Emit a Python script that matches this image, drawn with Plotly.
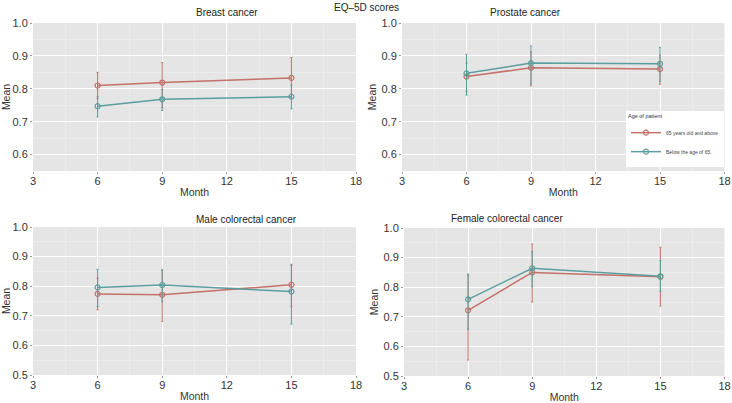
import plotly.graph_objects as go

months = [6, 9, 15]
panels = ["Breast cancer", "Prostate cancer", "Male colorectal cancer", "Female colorectal cancer"]
series_names = ["65 years old and above", "Below the age of 65."]

# mean values per panel: [65+, below 65]
old_mean = [
    [0.810, 0.819, 0.833],
    [0.837, 0.864, 0.860],
    [0.774, 0.771, 0.805],
    [0.722, 0.850, 0.835],
]
old_hi = [
    [0.850, 0.880, 0.895],
    [0.878, 0.912, 0.902],
    [0.827, 0.855, 0.870],
    [0.842, 0.946, 0.935],
]
old_lo = [
    [0.770, 0.742, 0.772],
    [0.792, 0.809, 0.814],
    [0.720, 0.681, 0.731],
    [0.554, 0.750, 0.736],
]
young_mean = [
    [0.747, 0.768, 0.776],
    [0.847, 0.878, 0.876],
    [0.796, 0.804, 0.782],
    [0.759, 0.864, 0.837],
]
young_hi = [
    [0.777, 0.798, 0.811],
    [0.905, 0.930, 0.926],
    [0.857, 0.855, 0.874],
    [0.844, 0.920, 0.890],
]
young_lo = [
    [0.714, 0.734, 0.739],
    [0.781, 0.815, 0.822],
    [0.731, 0.748, 0.672],
    [0.658, 0.802, 0.786],
]
y_ranges = [[0.55, 1.0], [0.55, 1.0], [0.5, 1.0], [0.5, 1.0]]
y_ticks = [[0.6, 0.7, 0.8, 0.9, 1.0], [0.6, 0.7, 0.8, 0.9, 1.0],
           [0.5, 0.6, 0.7, 0.8, 0.9, 1.0], [0.5, 0.6, 0.7, 0.8, 0.9, 1.0]]
x_ticks = [3, 6, 9, 12, 15, 18]

W, H = 732, 403
# pixel boxes of plot areas: (left, right, top, bottom)
boxes = [(33, 356, 23, 171), (402, 724.5, 23, 171), (33, 356, 227, 375), (404, 724.5, 228, 376)]

RED = "#c4706b"
TEAL = "#5c9e9d"
FONT = "Liberation Sans, Arial, sans-serif"

fig = go.Figure()
for i in range(4):
    xa = "x" if i == 0 else f"x{i+1}"
    ya = "y" if i == 0 else f"y{i+1}"
    for s, (mean, hi, lo, col) in enumerate([
        (old_mean[i], old_hi[i], old_lo[i], RED),
        (young_mean[i], young_hi[i], young_lo[i], TEAL),
    ]):
        fig.add_trace(go.Scatter(
            x=months, y=mean, mode="lines+markers",
            name=series_names[s], legendgroup=series_names[s], showlegend=(i == 1),
            line=dict(color=col, width=1.5),
            marker=dict(symbol="circle", size=5, color="rgba(0,0,0,0)",
                        line=dict(color=col, width=1.2)),
            error_y=dict(type="data", symmetric=False,
                         array=[h - m for h, m in zip(hi, mean)],
                         arrayminus=[m - l for m, l in zip(mean, lo)],
                         color=col, thickness=1, width=1),
            xaxis=xa, yaxis=ya,
        ))

layout = dict(
    width=W, height=H, margin=dict(l=0, r=0, t=0, b=0, autoexpand=False),
    paper_bgcolor="white", plot_bgcolor="#e5e5e5",
    font=dict(family=FONT, size=11, color="#333333"),
    showlegend=True,
    legend=dict(x=724 / W, y=1 - 167 / H, xanchor="right", yanchor="bottom",
                bgcolor="white", font=dict(size=5, color="#444444"),
                title=dict(text="Age of patient", font=dict(size=5.5, color="#333333")),
                itemwidth=30, tracegroupgap=0),
)
annotations = [dict(text="EQ\u20135D scores", x=366 / W, y=1 - 8 / H, xref="paper", yref="paper",
                    yanchor="middle", showarrow=False, font=dict(size=10, color="#222222"))]
title_pos = [(194, 13), (563, 13), (194, 219), (565, 218)]
for i, (l, r, t, b) in enumerate(boxes):
    k = "" if i == 0 else str(i + 1)
    layout["xaxis" + k] = dict(
        domain=[l / W, r / W], anchor="y" + k, range=[3, 18], tickvals=x_ticks,
        ticks="outside", ticklen=2, tickcolor="#999999", tickfont=dict(size=11, color="#333333"),
        showgrid=True, gridcolor="white", gridwidth=1, zeroline=False, showline=False,
        automargin=False, ticklabelstandoff=-2,
        minor=dict(dtick=1.5, tick0=3, showgrid=True, gridcolor="#ececec", gridwidth=0.6),
        title=dict(text="Month", font=dict(size=10.5, color="#333333"), standoff=2),
    )
    layout["yaxis" + k] = dict(
        domain=[1 - b / H, 1 - t / H], anchor="x" + k, range=y_ranges[i], tickvals=y_ticks[i],
        tickformat=".1f", ticks="outside", ticklen=2, tickcolor="#999999",
        tickfont=dict(size=11, color="#333333"), automargin=False,
        showgrid=True, gridcolor="white", gridwidth=1, zeroline=False, showline=False,
        minor=dict(dtick=0.05, tick0=0.5, showgrid=True, gridcolor="#ececec", gridwidth=0.6),
        title=dict(text="Mean", font=dict(size=10.5, color="#333333"), standoff=2),
    )
    tx, ty = title_pos[i]
    annotations.append(dict(text=panels[i], x=tx / W, y=1 - ty / H, xref="paper", yref="paper",
                            yanchor="middle", showarrow=False,
                            font=dict(size=10, color="#222222")))
layout["annotations"] = annotations
fig.update_layout(**layout)
fig.write_html(
    "out.html",
    config={"displayModeBar": False},
    post_script="document.body.style.margin='0px';document.body.style.overflow='hidden';",
)
